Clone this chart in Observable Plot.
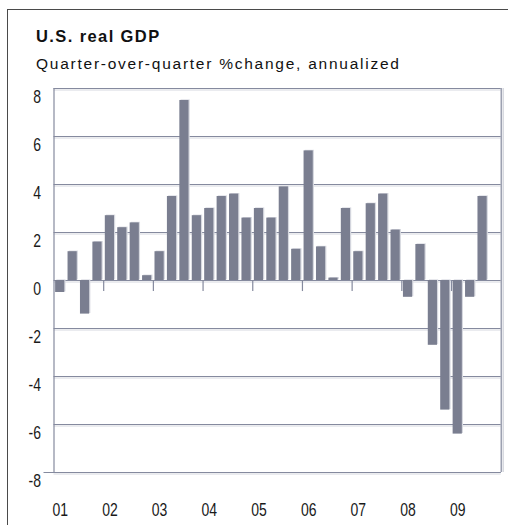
<!DOCTYPE html>
<html>
<head>
<meta charset="utf-8">
<script src="https://cdn.jsdelivr.net/npm/d3@7"></script>
<script src="https://cdn.jsdelivr.net/npm/@observablehq/plot@0.6"></script>
<style>
  html, body { margin: 0; padding: 0; background: #fff; }
  #wrap { position: relative; width: 508px; height: 525px; overflow: hidden; }
  #frame { position: absolute; left: 7px; top: 9px; width: 510px; height: 530px;
           border-top: 1.5px solid #4a4a4a; border-left: 1.5px solid #4a4a4a; box-sizing: border-box; }
  #chart { position: absolute; left: 0; top: 0; }
  .hdr { position: absolute; left: 36px; white-space: nowrap; color: #111;
         font-family: "Liberation Sans", Arial, sans-serif; line-height: 1; }
  #title { top: 28px; font-size: 16.5px; font-weight: bold; letter-spacing: 1.4px; }
  #subtitle { top: 55.5px; font-size: 15.5px; letter-spacing: 1.75px; }
</style>
</head>
<body>
<div id="wrap">
  <div id="frame"></div>
  <div id="chart"></div>
  <div class="hdr" id="title">U.S. real GDP</div>
  <div class="hdr" id="subtitle">Quarter-over-quarter %change, annualized</div>
</div>
<script>
// Quarterly % change, annualized: 2001Q1 .. 2009Q3
const gdp = [
  -0.5, 1.2, -1.4, 1.6,   // 2001
   2.7, 2.2,  2.4, 0.2,   // 2002
   1.2, 3.5,  7.5, 2.7,   // 2003
   3.0, 3.5,  3.6, 2.6,   // 2004
   3.0, 2.6,  3.9, 1.3,   // 2005
   5.4, 1.4,  0.1, 3.0,   // 2006
   1.2, 3.2,  3.6, 2.1,   // 2007
  -0.7, 1.5, -2.7, -5.4,  // 2008
  -6.4, -0.7, 3.5         // 2009
];
const years = ["01", "02", "03", "04", "05", "06", "07", "08", "09"];
const yTicks = [-8, -6, -4, -2, 0, 2, 4, 6, 8];
const quartersPerYear = 4;

const data = gdp.map((v, i) => ({i, v}));
const nSlots = years.length * quartersPerYear;
const yearBoundaries = years.slice(1).map((_, k) => (k + 1) * quartersPerYear);
const yearLabelPos = years.map((_, k) => k * quartersPerYear + 0.5);

const gridColor = "#858a9e";
const shadow = "#d6d8df";
const barColor = "#7a7e90";
const labelFont = "'Liberation Sans', Arial, sans-serif";

const chart = Plot.plot({
  width: 508,
  height: 525,
  marginLeft: 53.5,
  marginRight: 7.3,
  marginTop: 88,
  marginBottom: 53,
  x: {domain: [0, nSlots], axis: null},
  y: {domain: [-8, 8], axis: null},
  style: {background: "transparent", overflow: "visible"},
  marks: [
    Plot.ruleY(yTicks, {stroke: shadow, strokeWidth: 1, dy: 1.5}),
    Plot.ruleY(yTicks, {stroke: gridColor, strokeWidth: 1.2}),
    Plot.ruleY([-8], {stroke: gridColor, strokeWidth: 1.2, insetLeft: -10}),
    Plot.ruleX([nSlots], {stroke: shadow, strokeWidth: 1.5, dx: 2}),
    Plot.ruleX([0, nSlots], {stroke: gridColor, strokeWidth: 1.2}),
    Plot.ruleX(yearBoundaries, {y1: 0, y2: -0.46, stroke: gridColor, strokeWidth: 1.2}),
    Plot.rectY(data, {x1: d => d.i + 0.13, x2: d => d.i + 0.87, y1: 0, y2: "v", fill: shadow, dx: 1.2, dy: -0.6}),
    Plot.rectY(data, {x1: d => d.i + 0.13, x2: d => d.i + 0.87, y1: 0, y2: "v", fill: barColor}),
    Plot.axisY({ticks: yTicks, label: null, tickSize: 0, tickPadding: 13, dy: 9,
      tickFormat: d => String(d), fontSize: 17.5, fontFamily: labelFont, fill: "#1a1a1a"}),
    Plot.axisX({ticks: yearLabelPos, label: null, tickSize: 0, tickPadding: 31,
      tickFormat: d => years[Math.round((d - 0.5) / quartersPerYear)],
      fontSize: 17.5, fontFamily: labelFont, fill: "#1a1a1a"})
  ]
});

// narrow the tick-label glyphs (the reference uses a condensed face)
chart.querySelectorAll('g[aria-label="y-axis tick label"] text, g[aria-label="x-axis tick label"] text').forEach(t => {
  const tr = t.getAttribute("transform");
  if (tr) {
    t.setAttribute("transform", tr + " scale(0.8,1)");
  } else {
    const x = +t.getAttribute("x") || 0;
    t.setAttribute("transform", `translate(${x},0) scale(0.8,1) translate(${-x},0)`);
  }
});

document.getElementById("chart").appendChild(chart);
</script>
</body>
</html>
